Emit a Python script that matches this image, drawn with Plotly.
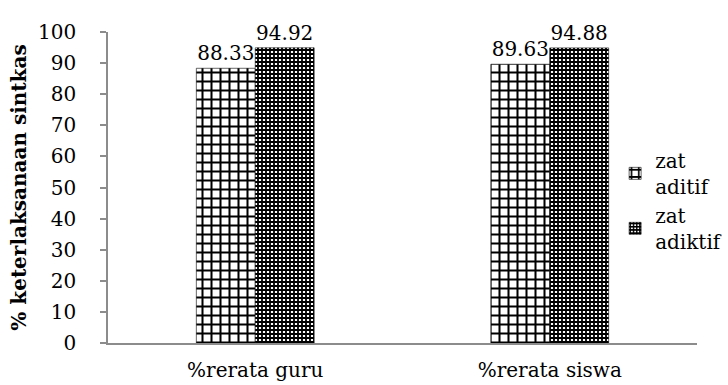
import plotly.graph_objects as go

categories = ["%rerata guru", "%rerata siswa"]
series_names = ["zat<br>aditif", "zat<br>adiktif"]
aditif = [88.33, 89.63]
adiktif = [94.92, 94.88]
y_ticks = [0, 10, 20, 30, 40, 50, 60, 70, 80, 90, 100]

FONT = "DejaVu Serif"
FS = 20
AXIS_GREY = "#8c8c8c"

fig = go.Figure()

fig.add_trace(go.Bar(
    name=series_names[0],
    x=categories,
    y=aditif,
    text=[f"{v:.2f}" for v in aditif],
    textposition="outside",
    cliponaxis=False,
    textfont=dict(family=FONT, size=FS, color="black"),
    marker=dict(
        color="white",
        line=dict(color="black", width=0.6),
        pattern=dict(shape="+", fgcolor="black", bgcolor="white",
                     size=9, solidity=0.4, fillmode="replace"),
    ),
))

fig.add_trace(go.Bar(
    name=series_names[1],
    x=categories,
    y=adiktif,
    text=[f"{v:.2f}" for v in adiktif],
    textposition="outside",
    cliponaxis=False,
    textfont=dict(family=FONT, size=FS, color="black"),
    marker=dict(
        color="black",
        line=dict(color="black", width=0.6),
        pattern=dict(shape="+", fgcolor="black", bgcolor="white",
                     size=4, solidity=0.7, fillmode="replace"),
    ),
))

fig.update_layout(
    width=728,
    height=385,
    margin=dict(l=108, r=31, t=32, b=42, autoexpand=False),
    paper_bgcolor="white",
    plot_bgcolor="white",
    barmode="group",
    bargap=0.6,
    bargroupgap=0,
    font=dict(family=FONT, size=FS, color="black"),
    showlegend=True,
    legend=dict(
        x=0.861, y=0.65, xanchor="left", yanchor="top",
        bgcolor="rgba(0,0,0,0)",
        font=dict(family=FONT, size=FS, color="black"),
        itemwidth=30,
        tracegroupgap=0,
    ),
    xaxis=dict(
        automargin=False,
        showline=True, linecolor=AXIS_GREY, linewidth=1.5,
        ticks="", showgrid=False,
        ticklabelstandoff=8,
        tickfont=dict(family=FONT, size=FS, color="black"),
    ),
    yaxis=dict(
        automargin=False,
        range=[0, 100],
        tickvals=y_ticks,
        showline=True, linecolor=AXIS_GREY, linewidth=1.5,
        ticks="outside", ticklen=6, tickcolor=AXIS_GREY, tickwidth=1.5,
        ticklabelstandoff=20,
        showgrid=False, zeroline=False,
        tickfont=dict(family=FONT, size=FS, color="black"),
        title=dict(text="<b>% keterlaksanaan sintkas</b>",
                   font=dict(family=FONT, size=FS, color="black"),
                   standoff=6),
    ),
)

fig.write_html("out.html")
